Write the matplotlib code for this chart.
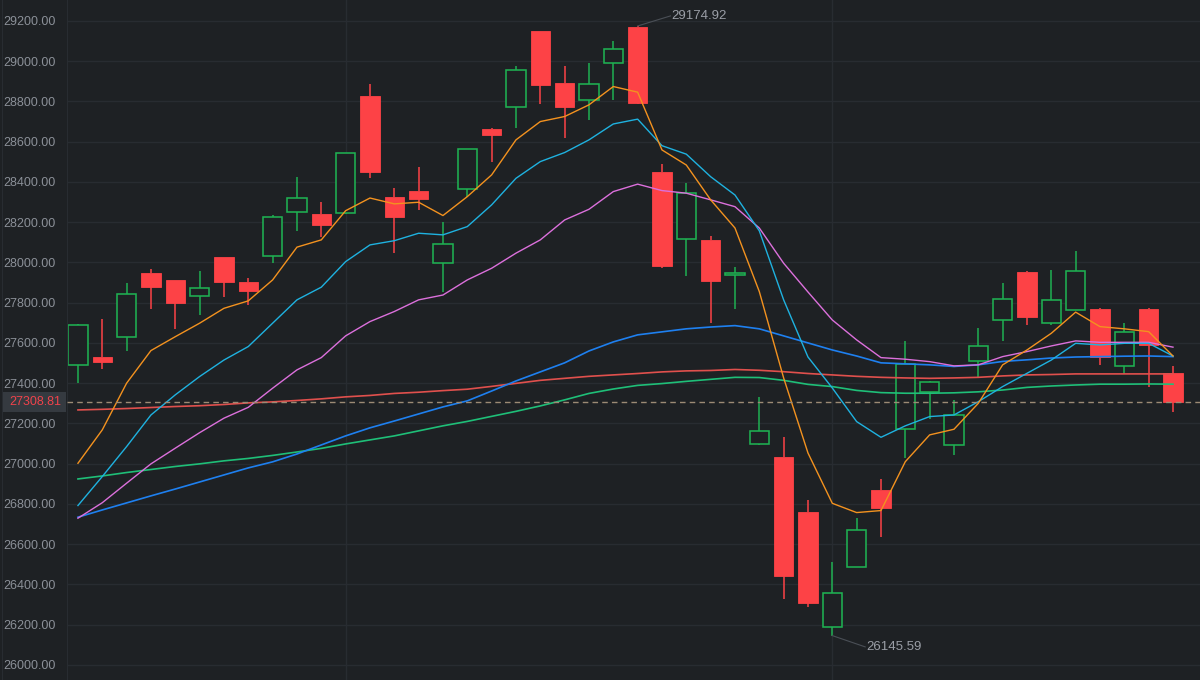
import matplotlib
matplotlib.use("Agg")
import matplotlib.pyplot as plt
from matplotlib.patches import Rectangle

# candle data
opens = [27492, 27532, 27628, 27948, 27912, 27835, 28026, 27902, 28032, 28251,
         28242, 28246, 28827, 28327, 28354, 27997, 28367, 28665, 28771, 29149,
         28892, 28806, 28990, 29170, 28450, 28115, 28112, 27936, 27097, 27032,
         26759, 26187, 26487, 26870, 27171, 27355, 27093, 27512, 27714, 27953,
         27698, 27765, 27767, 27484, 27767, 27452]
highs = [27692, 27718, 27897, 27968, 27915, 27958, 28028, 27921, 28235, 28423,
         28301, 28545, 28887, 28370, 28476, 28203, 28565, 28668, 28976, 29152,
         28976, 28991, 29102, 29174.92, 28489, 28397, 28133, 27979, 27333, 27134,
         26820, 26510, 26730, 26926, 27610, 27413, 27317, 27675, 27897, 27956,
         27963, 28059, 27773, 27701, 27773, 27486]
lows = [27403, 27469, 27560, 27769, 27670, 27739, 27827, 27790, 27996, 28157,
        28125, 28240, 28421, 28049, 28261, 27855, 28324, 28501, 28670, 28788,
        28620, 28708, 28807, 28785, 27974, 27934, 27701, 27770, 27095, 26326,
        26290, 26145.59, 26485, 26638, 27027, 27222, 27043, 27433, 27611, 27691,
        27691, 27763, 27491, 27444, 27383, 27259]
closes = [27688, 27507, 27842, 27880, 27797, 27872, 27902, 27860, 28226, 28320,
          28186, 28543, 28450, 28226, 28317, 28090, 28562, 28634, 28955, 28882,
          28771, 28885, 29059, 28791, 27983, 28344, 27907, 27949, 27163, 26442,
          26307, 26356, 26672, 26782, 27494, 27405, 27241, 27584, 27820, 27728,
          27815, 27956, 27532, 27656, 27590, 27308.81]

# moving average lines
ma_orange = [27002, 27168, 27400, 27562, 27631, 27698, 27772, 27809, 27913, 28076,
             28112, 28257, 28320, 28291, 28299, 28233, 28327, 28435, 28609, 28700,
             28725, 28783, 28874, 28846, 28559, 28484, 28311, 28171, 27855, 27426,
             27053, 26803, 26757, 26767, 27010, 27143, 27171, 27300, 27491, 27565,
             27648, 27753, 27681, 27670, 27656, 27535]
ma_cyan = [26792, 26936, 27085, 27242, 27342, 27433, 27515, 27582, 27698, 27814,
           27877, 28004, 28087, 28108, 28145, 28137, 28178, 28286, 28418, 28501,
           28546, 28609, 28688, 28712, 28580, 28538, 28426, 28335, 28157, 27814,
           27530, 27376, 27209, 27131, 27188, 27234, 27242, 27308, 27383, 27449,
           27515, 27598, 27590, 27598, 27598, 27535]
ma_pink = [26729, 26806, 26903, 26999, 27077, 27154, 27226, 27280, 27375, 27466,
           27527, 27635, 27706, 27756, 27814, 27838, 27913, 27971, 28046, 28112,
           28211, 28264, 28352, 28389, 28357, 28344, 28311, 28277, 28171, 27996,
           27853, 27714, 27615, 27527, 27519, 27507, 27486, 27491, 27532, 27557,
           27585, 27610, 27603, 27603, 27603, 27579]
ma_blue = [26734, 26770, 26805, 26840, 26874, 26909, 26944, 26979, 27009, 27048,
           27093, 27138, 27178, 27212, 27247, 27282, 27312, 27361, 27411, 27456,
           27501, 27560, 27605, 27640, 27655, 27670, 27679, 27686, 27670, 27635,
           27600, 27565, 27535, 27501, 27496, 27491, 27483, 27491, 27508, 27516,
           27525, 27530, 27532, 27534, 27535, 27532]
ma_red = [27267, 27270, 27274, 27279, 27284, 27288, 27294, 27302, 27307, 27314,
          27322, 27332, 27339, 27349, 27355, 27363, 27370, 27384, 27399, 27414,
          27424, 27434, 27441, 27448, 27456, 27461, 27463, 27468, 27464, 27457,
          27448, 27441, 27434, 27429, 27426, 27424, 27426, 27429, 27436, 27441,
          27443, 27446, 27446, 27446, 27446, 27446]
ma_green = [26924, 26939, 26956, 26971, 26986, 26999, 27014, 27026, 27041, 27058,
            27076, 27098, 27118, 27138, 27163, 27188, 27210, 27235, 27260, 27287,
            27317, 27349, 27371, 27389, 27398, 27409, 27419, 27429, 27428, 27414,
            27394, 27383, 27364, 27353, 27350, 27350, 27352, 27357, 27366, 27379,
            27386, 27391, 27395, 27395, 27396, 27395]

y_ticks = [26000, 26200, 26400, 26600, 26800, 27000, 27200, 27400, 27600,
           27800, 28000, 28200, 28400, 28600, 28800, 29000, 29200]
v_grid = [11, 31]

bg = '#1e2124'
grid_c = '#282c31'
up_c = '#1fb052'
down_c = '#fd4246'
label_c = '#8b9098'

fig = plt.figure(figsize=(12, 6.8), dpi=100, facecolor=bg)
ax = fig.add_axes([67 / 1200, 0, 1 - 67 / 1200, 1])
ax.set_facecolor(bg)

n = len(closes)
xs = list(range(n))

# wicks
for i in xs:
    c = up_c if closes[i] >= opens[i] else down_c
    top = max(opens[i], closes[i])
    bot = min(opens[i], closes[i])
    ax.vlines(i, top, highs[i], color=c, lw=1.1, zorder=1)
    ax.vlines(i, lows[i], bot, color=c, lw=1.1, zorder=1)

# bodies
for i in xs:
    top = max(opens[i], closes[i])
    bot = min(opens[i], closes[i])
    if closes[i] >= opens[i]:
        ax.bar(i, top - bot, bottom=bot, width=0.8, facecolor=bg,
               edgecolor=up_c, linewidth=1.15, zorder=2)
    else:
        ax.bar(i, top - bot, bottom=bot, width=0.8, facecolor=down_c,
               edgecolor=down_c, linewidth=0.6, zorder=2)

ax.plot(xs, ma_green, color='#1fbf78', lw=1.2, zorder=3)
ax.plot(xs, ma_red, color='#e0504d', lw=1.2, zorder=3)
ax.plot(xs, ma_blue, color='#1e80f0', lw=1.2, zorder=3)
ax.plot(xs, ma_pink, color='#dc70dc', lw=1.0, zorder=3)
ax.plot(xs, ma_cyan, color='#1fb2e0', lw=1.0, zorder=3)
ax.plot(xs, ma_orange, color='#f3921f', lw=1.0, zorder=3)

# last price line
last = closes[-1]
ax.axhline(last, color='#9c8b75', lw=1.0, ls=(0, (4, 3)), zorder=4)

# max / min annotations
imax = highs.index(max(highs))
imin = lows.index(min(lows))
ax.plot([imax, imax + 1.35], [highs[imax], highs[imax] + 50], color='#4a4f56', lw=0.8, zorder=4)
ax.text(imax + 1.4, highs[imax] + 50, f'{highs[imax]:.2f}', color='#9a9ea6',
        fontsize=9.5, family='Liberation Sans', va='center', ha='left')
ax.plot([imin, imin + 1.35], [lows[imin], lows[imin] - 56], color='#4a4f56', lw=0.8, zorder=4)
ax.text(imin + 1.4, lows[imin] - 56, f'{lows[imin]:.2f}', color='#9a9ea6',
        fontsize=9.5, family='Liberation Sans', va='center', ha='left')

ax.set_xlim(-0.45, 46.11)
ax.set_ylim(25925, 29304)
ax.set_yticks(y_ticks)
ax.set_yticklabels([f'{v:.2f}' for v in y_ticks], color=label_c,
                   fontsize=9, family='Liberation Sans')
ax.set_xticks(v_grid)
ax.set_xticklabels([])
ax.tick_params(axis='both', length=0)
ax.tick_params(axis='y', pad=8)
ax.grid(True, color=grid_c, lw=1.0, zorder=0)
ax.set_axisbelow(True)
for s in ax.spines.values():
    s.set_visible(False)
ax.spines['left'].set_visible(True)
ax.spines['left'].set_color(grid_c)

# left edge line
fig.add_artist(Rectangle((2 / 1200, 0), 0.5 / 1200, 1, transform=fig.transFigure,
                         facecolor=grid_c, edgecolor='none'))

# last price label box
yfig = ax.transData.transform((0, last))[1] / fig.bbox.height
fig.add_artist(Rectangle((3 / 1200, yfig - 10 / 680), 63 / 1200, 20 / 680,
                         transform=fig.transFigure, facecolor='#353a40', edgecolor='none'))
fig.text(35 / 1200, yfig, f'{last:.2f}', color='#f0434b', fontsize=9,
         family='Liberation Sans', ha='center', va='center')

fig.savefig('out.png', dpi=100, facecolor=bg)
